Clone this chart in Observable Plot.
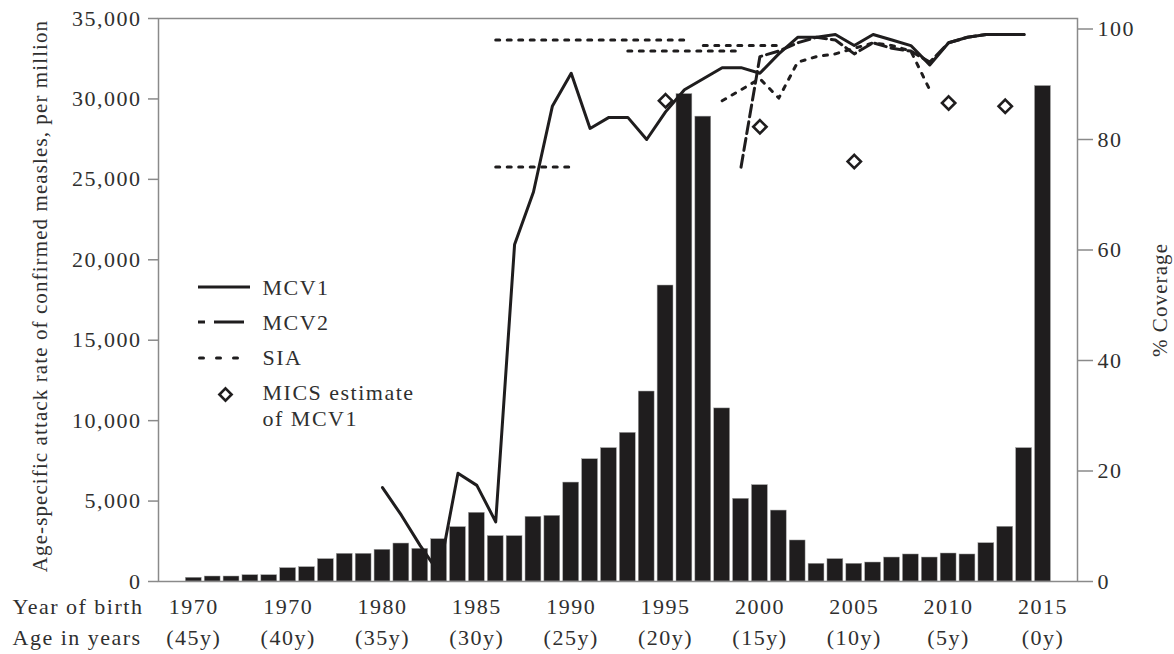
<!DOCTYPE html>
<html><head><meta charset="utf-8">
<script src="https://cdn.jsdelivr.net/npm/d3@7"></script>
<script src="https://cdn.jsdelivr.net/npm/@observablehq/plot@0.6"></script>
<style>
body{margin:0;background:#fff}
#chart svg, #chart svg text { font-family: "Liberation Serif", "DejaVu Serif", serif !important; letter-spacing: 1.5px; }
#chart svg .narrow text, #chart svg text.narrow, #chart svg .narrow { letter-spacing: 1.1px !important; }
</style>
</head><body><div id="chart"></div>
<script>
// ---- data ----
const years = [1970,1971,1972,1973,1974,1975,1976,1977,1978,1979,
  1980,1981,1982,1983,1984,1985,1986,1987,1988,1989,
  1990,1991,1992,1993,1994,1995,1996,1997,1998,1999,
  2000,2001,2002,2003,2004,2005,2006,2007,2008,2009,
  2010,2011,2012,2013,2014,2015];
const attackRate = [230,310,310,390,390,830,890,1390,1720,1720,
  1970,2360,2030,2630,3380,4270,2820,2820,4020,4080,
  6150,7600,8290,9240,11810,18400,30300,28900,10760,5140,
  5990,4410,2550,1100,1390,1100,1180,1490,1680,1490,
  1740,1680,2380,3400,8290,30800];

const mcv1Years = [1980,1981,1982,1983,1984,1985,1986,1987,1988,1989,
  1990,1991,1992,1993,1994,1995,1996,1997,1998,1999,
  2000,2001,2002,2003,2004,2005,2006,2007,2008,2009,
  2010,2011,2012,2013,2014];
const mcv1Cov = [17,12,6.5,1.5,19.6,17.4,10.8,61,70.5,86,
  92,82,84,84,80,85,89,91,93,93,
  92,95.5,98.5,98.5,99,97,99,98,97,93.5,
  97.5,98.5,99,99,99];

const mcv2Years = [1999,2000,2001,2002,2003,2004,2005,2006,2007,2008,2009,2010,2011,2012,2013,2014];
const mcv2Cov = [75,95,96,97.5,98.5,98,95.5,97.5,96.5,96,94,97.5,98.5,99,99,99];

const siaGroup = ["a","a","b","b","c","c","d","d",
  "e","e","e","e","e","e","e","e","e","e","e","e"];
const siaYears = [1986,1990,1986,1996,1993,1999,1997,2001,
  1998,1999,2000,2001,2002,2003,2004,2005,2006,2007,2008,2009];
const siaCov = [75,75,98,98,96,96,97,97,
  87,89,91,87.5,94,95,95.5,96.5,97.5,97,96,89];

const micsYears = [1995,2000,2005,2010,2013];
const micsCov = [87,82.3,76,86.6,86];

const leftTicks = [0,5000,10000,15000,20000,25000,30000,35000];
const rightTicks = [0,20,40,60,80,100];
const xTickYears = [1970,1975,1980,1985,1990,1995,2000,2005,2010,2015];
const xYearLabels = ["1970","1970","1980","1985","1990","1995","2000","2005","2010","2015"];
const xAgeLabels = ["(45y)","(40y)","(35y)","(30y)","(25y)","(20y)","(15y)","(10y)","(5y)","(0y)"];

// ---- chart ----
const font = "'Liberation Serif', 'DejaVu Serif', serif";
const textColor = "#2f2f2f";
const ink = "#1f1d1e";
const grey = "#8a8a8a";
const covTop = 101.9;            // coverage value at top of frame
const k = 35000 / covTop;        // coverage -> left-axis units

const bars = years.map((year, i) => ({year, rate: attackRate[i]}));
const mcv1 = mcv1Years.map((year, i) => ({year, cov: mcv1Cov[i]}));
const mcv2 = mcv2Years.map((year, i) => ({year, cov: mcv2Cov[i]}));
const sia = siaYears.map((year, i) => ({year, cov: siaCov[i], group: siaGroup[i]}));
const mics = micsYears.map((year, i) => ({year, cov: micsCov[i]}));

const txt = {fill: textColor, fontSize: 22, fontFamily: font};
const txtN = {fill: textColor, fontSize: 21, fontFamily: font, className: "narrow"};

const plot = Plot.plot({
  width: 1174, height: 654,
  marginLeft: 158, marginRight: 97, marginTop: 18, marginBottom: 73,
  style: {fontFamily: font, fontSize: "22px", color: textColor, background: "#fff"},
  x: {domain: [1968.13, 2016.83], axis: null},
  y: {domain: [0, 35000], axis: null},
  marks: [
    Plot.rectY(bars, {x1: d => d.year - 0.42, x2: d => d.year + 0.42, y: "rate", fill: ink, stroke: "#a0a0a0", strokeWidth: 0.5}),
    Plot.line(mcv1, {x: "year", y: d => d.cov * k, stroke: ink, strokeWidth: 3, strokeLinejoin: "round"}),
    Plot.line(mcv2, {x: "year", y: d => d.cov * k, stroke: ink, strokeWidth: 3, strokeDasharray: "12,5"}),
    Plot.line(sia, {x: "year", y: d => d.cov * k, z: "group", stroke: ink, strokeWidth: 3, strokeDasharray: "4,7.5", strokeLinecap: "round"}),
    Plot.dot(mics, {x: "year", y: d => d.cov * k, symbol: "diamond2", r: 6, stroke: ink, strokeWidth: 2.6, fill: "white"}),
    Plot.frame({stroke: grey, strokeWidth: 1.5}),
    Plot.axisY(leftTicks, {anchor: "left", tickFormat: d3.format(","), tickSize: 10, tickPadding: 7, stroke: grey, strokeWidth: 1.5, fill: textColor, label: null, fontSize: 22, fontFamily: font}),
    Plot.axisY(rightTicks.map(t => t * k), {anchor: "right", tickFormat: d => String(Math.round(d / k)), tickSize: 15, tickPadding: 5, stroke: grey, strokeWidth: 1.5, fill: textColor, label: null, fontSize: 22, fontFamily: font}),
    Plot.text(xTickYears, {x: d => d, text: xYearLabels, frameAnchor: "bottom", dy: 25, lineAnchor: "middle", ...txt}),
    Plot.text(xTickYears, {x: d => d, text: xAgeLabels, frameAnchor: "bottom", dy: 56, lineAnchor: "middle", ...txt}),
    Plot.text(["Year of birth"], {frameAnchor: "bottom-left", dx: -146, dy: 25, textAnchor: "start", lineAnchor: "middle", ...txt}),
    Plot.text(["Age in years"], {frameAnchor: "bottom-left", dx: -146, dy: 56, textAnchor: "start", lineAnchor: "middle", ...txt}),
    Plot.text(["Age-specific attack rate of confirmed measles, per million"], {frameAnchor: "left", dx: -118, dy: -4, rotate: -90, textAnchor: "middle", lineAnchor: "middle", ...txtN}),
    Plot.text(["% Coverage"], {frameAnchor: "right", dx: 83, dy: 0, rotate: -90, textAnchor: "middle", lineAnchor: "middle", ...txtN}),
    Plot.text(["MCV1"], {frameAnchor: "top-left", dx: 104, dy: 269, textAnchor: "start", lineAnchor: "middle", ...txt}),
    Plot.text(["MCV2"], {frameAnchor: "top-left", dx: 104, dy: 304, textAnchor: "start", lineAnchor: "middle", ...txt}),
    Plot.text(["SIA"], {frameAnchor: "top-left", dx: 104, dy: 339, textAnchor: "start", lineAnchor: "middle", ...txt}),
    Plot.text(["MICS estimate"], {frameAnchor: "top-left", dx: 104, dy: 374, textAnchor: "start", lineAnchor: "middle", ...txt}),
    Plot.text(["of MCV1"], {frameAnchor: "top-left", dx: 104, dy: 400, textAnchor: "start", lineAnchor: "middle", ...txt}),
    Plot.dot([0], {frameAnchor: "top-left", dx: 67, dy: 376, symbol: "diamond2", r: 5.5, stroke: ink, strokeWidth: 2.6, fill: "white"})
  ]
});

// legend line samples
const svg = d3.select(plot);
svg.selectAll(".narrow text").style("letter-spacing", "1.1px");
const lg = svg.append("g").attr("stroke", ink).attr("stroke-width", 3).attr("fill", "none");
lg.append("line").attr("x1", 198).attr("x2", 250).attr("y1", 287).attr("y2", 287);
lg.append("line").attr("x1", 198).attr("x2", 244).attr("y1", 322).attr("y2", 322).attr("stroke-dasharray", "7,9,30");
lg.append("line").attr("x1", 199.5).attr("x2", 242).attr("y1", 358).attr("y2", 358).attr("stroke-dasharray", "4,13").attr("stroke-linecap", "round");

document.getElementById("chart").appendChild(plot);
</script>
</body></html>
